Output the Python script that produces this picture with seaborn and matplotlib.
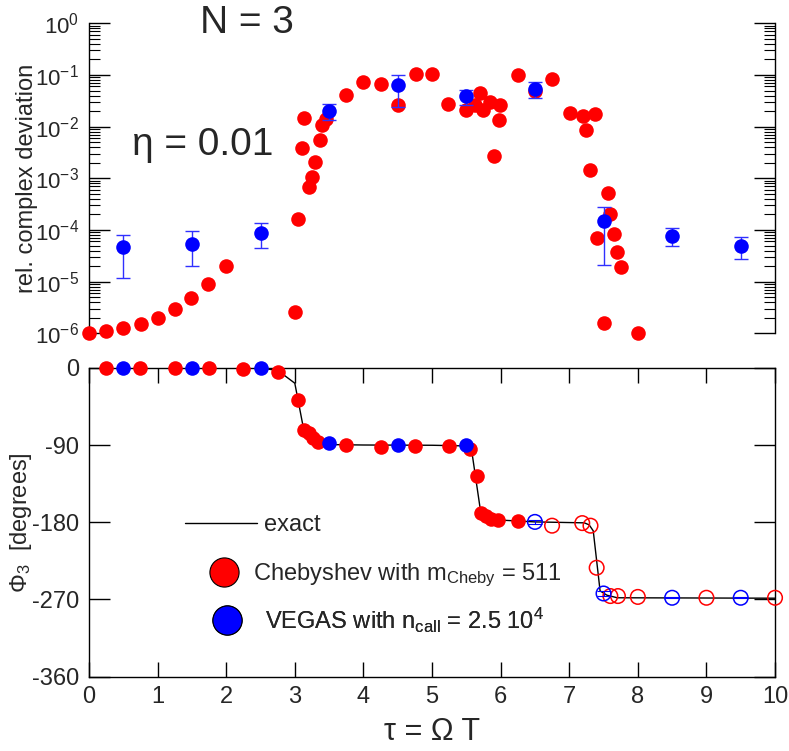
import numpy as np
import pandas as pd
import matplotlib
matplotlib.use("Agg")
import matplotlib.pyplot as plt
from matplotlib.lines import Line2D
from matplotlib.ticker import LogLocator, NullFormatter, FixedLocator
import seaborn as sns

# ---- relative complex deviation (upper panel) ----
cheb_tau = [0.0, 0.25, 0.5, 0.76, 1.01, 1.26, 1.49, 1.74, 2.0, 3.0, 3.04, 3.1, 3.14,
            3.2, 3.25, 3.29, 3.36, 3.39, 3.46, 3.74, 4.0, 4.25, 4.5, 4.76, 5.0, 5.24,
            5.5, 5.63, 5.7, 5.75, 5.84, 5.9, 5.97, 5.99, 6.25, 6.5, 6.75, 7.01, 7.2,
            7.25, 7.3, 7.37, 7.4, 7.5, 7.56, 7.6, 7.65, 7.7, 7.75, 8.0]
cheb_dev = [1.0e-6, 1.1e-6, 1.25e-6, 1.5e-6, 2.0e-6, 3.0e-6, 4.9e-6, 9.1e-6, 2.0e-5,
            2.6e-6, 1.6e-4, 3.8e-3, 1.45e-2, 6.8e-4, 1.05e-3, 2.1e-3, 5.6e-3, 1.07e-2,
            1.4e-2, 4.1e-2, 7.4e-2, 6.6e-2, 2.6e-2, 1.05e-1, 1.05e-1, 2.7e-2, 2.1e-2,
            2.6e-2, 4.5e-2, 2.1e-2, 3.0e-2, 2.75e-3, 1.35e-2, 2.6e-2, 1.0e-1, 4.9e-2,
            8.5e-2, 1.86e-2, 1.62e-2, 8.7e-3, 1.45e-3, 1.78e-2, 6.9e-5, 1.55e-6, 5.2e-4,
            2.0e-4, 8.3e-5, 3.8e-5, 1.9e-5, 1.0e-6]

vegas_tau = [0.5, 1.5, 2.5, 3.5, 4.5, 5.5, 6.5, 7.5, 8.5, 9.5]
vegas_dev = [4.6e-5, 5.4e-5, 8.9e-5, 2.05e-2, 6.3e-2, 4.0e-2, 5.4e-2, 1.5e-4, 7.8e-5, 4.9e-5]
vegas_dev_lo = [1.17e-5, 2.0e-5, 4.4e-5, 1.32e-2, 2.35e-2, 2.6e-2, 3.55e-2, 2.1e-5, 4.8e-5, 2.8e-5]
vegas_dev_hi = [7.9e-5, 9.5e-5, 1.35e-4, 2.75e-2, 9.8e-2, 5.1e-2, 7.2e-2, 2.75e-4, 1.1e-4, 7.4e-5]

# ---- phase Phi_3 in degrees (lower panel) ----
exact_tau = [0.0, 2.5, 2.75, 3.0, 3.12, 3.2, 3.3, 3.5, 4.0, 5.0, 5.45, 5.52, 5.58,
             5.7, 5.75, 5.85, 6.0, 6.5, 7.22, 7.29, 7.35, 7.45, 7.55, 7.7, 10.0]
exact_phi = [0.0, -0.5, -3.0, -18.0, -68.0, -80.0, -87.0, -89.5, -90.0, -90.3, -91.0,
             -92.5, -97.5, -163.0, -171.0, -175.0, -177.5, -179.6, -180.7, -183.0,
             -190.0, -260.0, -265.0, -268.0, -268.5]

cheb_phi_tau = [0.25, 0.75, 1.25, 1.75, 2.25, 2.75, 3.05, 3.14, 3.2, 3.26, 3.34, 3.75,
                4.25, 4.75, 5.25, 5.55, 5.66, 5.72, 5.79, 5.86, 5.96, 6.25]
cheb_phi = [0.0, 0.0, 0.0, 0.0, -1.5, -5.0, -38.0, -73.0, -76.0, -82.0, -87.0, -90.0,
            -92.5, -91.0, -91.0, -95.0, -126.0, -169.0, -173.0, -176.0, -177.0, -178.0]
cheb_phi_open_tau = [6.75, 7.19, 7.31, 7.4, 7.6, 7.71, 8.0, 9.0, 10.0]
cheb_phi_open = [-184.0, -181.0, -184.0, -233.0, -266.0, -266.0, -267.0, -268.0, -268.0]

vegas_phi_tau = [0.5, 1.5, 2.5, 3.5, 4.5, 5.5]
vegas_phi = [0.0, 0.0, -0.5, -88.0, -90.5, -90.0]
vegas_phi_open_tau = [6.5, 7.5, 8.5, 9.5]
vegas_phi_open = [-179.6, -263.0, -268.0, -268.0]
vegas_phi_open_err = [2.5, 3.0, 0.5, 0.5]

x_ticks = [0, 1, 2, 3, 4, 5, 6, 7, 8, 9, 10]
phi_ticks = [0, -90, -180, -270, -360]

legend_labels = [
    "exact",
    "Chebyshev with m$_{\\mathrm{Cheby}}$ = 511",
    "VEGAS with n$_{\\mathrm{call}}$ = 2.5 10$^{4}$",
]

sns.set_theme(style="white")
plt.rcParams["font.family"] = ["Liberation Sans", "DejaVu Sans"]
plt.rcParams["mathtext.fontset"] = "custom"
plt.rcParams["mathtext.rm"] = "Liberation Sans"
plt.rcParams["mathtext.it"] = "Liberation Sans:italic"
plt.rcParams["mathtext.bf"] = "Liberation Sans:bold"
plt.rcParams["axes.linewidth"] = 1.0
plt.rcParams["axes.edgecolor"] = "black"

RED = "#ff0000"
BLUE = "#0000ff"
TICK_FS = 17

fig = plt.figure(figsize=(7.89, 7.51), dpi=100)
ax_top = fig.add_axes([0.1128, 0.5562, 0.8695, 0.4128])
ax_bot = fig.add_axes([0.1128, 0.0989, 0.8695, 0.4114])

# ---------------- upper panel ----------------
df_cheb = pd.DataFrame({"tau": cheb_tau, "dev": cheb_dev})
df_vegas = pd.DataFrame({"tau": vegas_tau, "dev": vegas_dev,
                         "lo": vegas_dev_lo, "hi": vegas_dev_hi})

sns.scatterplot(data=df_cheb, x="tau", y="dev", ax=ax_top, color=RED, s=110,
                linewidth=0, zorder=3, clip_on=False, legend=False)
ax_top.errorbar(df_vegas["tau"], df_vegas["dev"],
                yerr=[df_vegas["dev"] - df_vegas["lo"], df_vegas["hi"] - df_vegas["dev"]],
                fmt="none", ecolor="#3030ff", elinewidth=1.0, capsize=5, capthick=1.0,
                zorder=4, clip_on=False)
sns.scatterplot(data=df_vegas, x="tau", y="dev", ax=ax_top, color=BLUE, s=110,
                linewidth=0, zorder=5, clip_on=False, legend=False)

ax_top.set_yscale("log")
ax_top.set_xlim(0, 10)
ax_top.set_ylim(1e-6, 1)
ax_top.spines["top"].set_visible(False)
ax_top.spines["bottom"].set_visible(False)
ax_top.set_xticks([])
ax_top.yaxis.set_major_locator(LogLocator(base=10, numticks=10))
ax_top.yaxis.set_minor_locator(LogLocator(base=10, subs=np.arange(2, 10), numticks=20))
ax_top.yaxis.set_minor_formatter(NullFormatter())
ax_top.tick_params(axis="y", which="major", direction="in", left=True, right=True,
                   length=15, width=1.0, labelsize=16, pad=7, color="black")
ax_top.tick_params(axis="y", which="minor", direction="in", left=True, right=True,
                   length=8, width=0.8, color="black")
ax_top.set_xlabel("")
ax_top.set_ylabel("rel. complex deviation", fontsize=17)
ax_top.yaxis.set_label_coords(-0.074, 0.5)

ax_top.text(0.23, 0.969, "N = 3", transform=ax_top.transAxes, fontsize=28,
            ha="center", va="baseline")
ax_top.text(0.165, 0.575, "\u03b7 = 0.01", transform=ax_top.transAxes, fontsize=28,
            ha="center", va="baseline")

# ---------------- lower panel ----------------
df_exact = pd.DataFrame({"tau": exact_tau, "phi": exact_phi})
df_cp = pd.DataFrame({"tau": cheb_phi_tau, "phi": cheb_phi})
df_cpo = pd.DataFrame({"tau": cheb_phi_open_tau, "phi": cheb_phi_open})
df_vp = pd.DataFrame({"tau": vegas_phi_tau, "phi": vegas_phi})
df_vpo = pd.DataFrame({"tau": vegas_phi_open_tau, "phi": vegas_phi_open,
                       "err": vegas_phi_open_err})

sns.lineplot(data=df_exact, x="tau", y="phi", ax=ax_bot, color="black", lw=1.0,
             sort=False, estimator=None, zorder=2, legend=False)
sns.scatterplot(data=df_cp, x="tau", y="phi", ax=ax_bot, color=RED, s=110,
                linewidth=0, zorder=3, clip_on=False, legend=False)
sns.scatterplot(data=df_vp, x="tau", y="phi", ax=ax_bot, color=BLUE, s=110,
                linewidth=0, zorder=4, clip_on=False, legend=False)
ax_bot.errorbar(df_vpo["tau"], df_vpo["phi"], yerr=df_vpo["err"], fmt="none",
                ecolor=BLUE, elinewidth=0.8, capsize=5, capthick=0.8, zorder=4)
sns.scatterplot(data=df_cpo, x="tau", y="phi", ax=ax_bot, s=110, marker="o",
                facecolor="none", edgecolor=RED, linewidth=1.1, zorder=3,
                clip_on=False, legend=False)
sns.scatterplot(data=df_vpo, x="tau", y="phi", ax=ax_bot, s=110, marker="o",
                facecolor="none", edgecolor=BLUE, linewidth=1.1, zorder=4,
                clip_on=False, legend=False)

ax_bot.set_xlim(0, 10)
ax_bot.set_ylim(-360, 0)
ax_bot.xaxis.set_major_locator(FixedLocator(x_ticks))
ax_bot.yaxis.set_major_locator(FixedLocator(phi_ticks))
ax_bot.set_xticklabels([str(v) for v in x_ticks])
ax_bot.set_yticklabels([str(v) for v in phi_ticks])
for side in ["top", "bottom", "left", "right"]:
    ax_bot.spines[side].set_visible(True)
ax_bot.tick_params(axis="x", which="major", direction="in", top=True, bottom=True,
                   length=11, width=1.0, labelsize=TICK_FS, pad=7, color="black")
ax_bot.tick_params(axis="y", which="major", direction="in", left=True, right=True,
                   length=15, width=1.0, labelsize=TICK_FS, pad=7, color="black")
ax_bot.set_xlabel("\u03c4 = \u03a9 T", fontsize=22)
ax_bot.xaxis.set_label_coords(0.5, -0.13)
ax_bot.set_ylabel("\u03a6$_3$  [degrees]", fontsize=17)
ax_bot.yaxis.set_label_coords(-0.08, 0.5)

# legend: one entry per row, each placed on its own anchor
legend_handles = [
    Line2D([], [], color="black", lw=1.0),
    Line2D([], [], ls="none", marker="o", ms=21, mfc=RED, mec="black", mew=0.8),
    Line2D([], [], ls="none", marker="o", ms=21, mfc=BLUE, mec="black", mew=0.8),
]
legend_rows = [
    # (anchor x, anchor y, handlelength, handletextpad)
    (0.140, 0.491, 3.05, 0.30),
    (0.1624, 0.329, 2.0, 0.23),
    (0.1666, 0.183, 2.0, 0.61),
]
for handle, label, (lx, ly, hl, hp) in zip(legend_handles, legend_labels, legend_rows):
    leg = ax_bot.legend([handle], [label], loc="center left", bbox_to_anchor=(lx, ly),
                        frameon=False, fontsize=17, handlelength=hl, handletextpad=hp,
                        borderpad=0, borderaxespad=0)
    ax_bot.add_artist(leg)

fig.savefig("out.png", dpi=100)
